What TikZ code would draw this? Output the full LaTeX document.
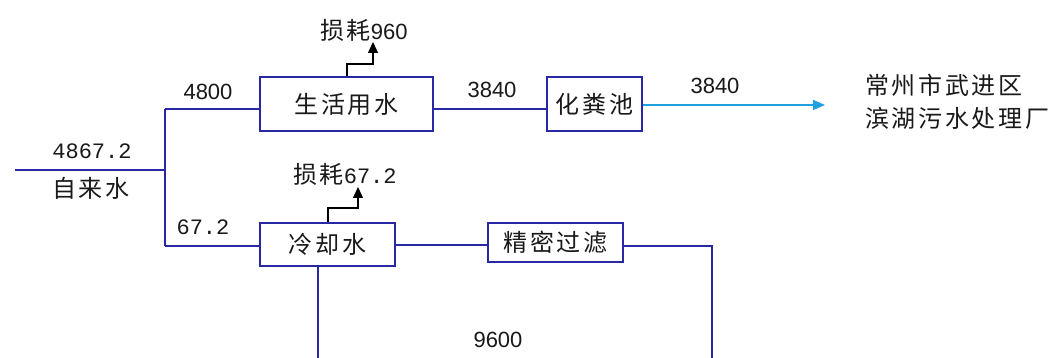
\documentclass[tikz,border=0pt]{standalone}
\usepackage{fontspec}
\usetikzlibrary{arrows.meta}
\newfontfamily\cjk[LetterSpace=11]{Noto Sans CJK SC}
\newfontfamily\numf{Liberation Sans}
\newfontfamily\monof{Liberation Mono}
\definecolor{navy}{RGB}{40,40,165}
\definecolor{skyb}{RGB}{30,160,225}
\definecolor{txt}{RGB}{25,25,25}
\tikzset{
  procbox/.style={draw=navy, line width=1.3pt, fill=white, inner sep=0pt, text=txt, font=\fontsize{24}{26}\selectfont\cjk},
  pipe/.style={draw=navy, line width=1.2pt},
  lossarrow/.style={draw=black, line width=1.2pt, -{Triangle[width=10pt,length=11pt]}},
  outarrow/.style={draw=skyb, line width=1.3pt, -{Triangle[width=10pt,length=12pt]}},
  lbl/.style={inner sep=0pt, text=txt, font=\fontsize{24}{26}\selectfont\cjk},
  numlbl/.style={inner sep=0pt, text=txt, font=\fontsize{22}{24}\selectfont\numf},
  monolbl/.style={inner sep=0pt, text=txt, font=\fontsize{22}{24}\selectfont\monof},
}
\begin{document}
\begin{tikzpicture}[x=1pt,y=-1pt]
\useasboundingbox[fill=white] (0,0) rectangle (1049,358);
% boxes
\node[procbox, minimum width=173pt, minimum height=54pt] (life) at (346.5,104) {生活用水};
\node[procbox, minimum width=95pt, minimum height=54pt] (septic) at (594.5,104) {化粪池};
\node[procbox, minimum width=135pt, minimum height=43pt] (cool) at (327.5,244.5) {冷却水};
\node[procbox, minimum width=135pt, minimum height=39pt] (filter) at (555.5,242.5) {精密过滤};
% coordinates
\coordinate (src) at (15,170);
\coordinate (jm) at (165,170);
\coordinate (jt) at (165,109);
\coordinate (jb) at (165,246);
\coordinate (dest) at (825,105);
\coordinate (loopR) at (712,246);
\coordinate (loopRB) at (712,358);
\coordinate (loopLB) at (318,358);
% pipes
\draw[pipe] (src) -- (jm);
\draw[pipe] (jt) -- (jb);
\draw[pipe] (jt) -- (life.west |- jt);
\draw[pipe] (jb) -- (cool.west |- jb);
\draw[pipe] (life.east |- 0,109) -- (septic.west |- 0,109);
\draw[pipe] (cool.east |- 0,245) -- (filter.west |- 0,245);
\draw[pipe] (filter.east |- loopR) -- (loopR) -- (loopRB);
\draw[pipe] (cool.south -| loopLB) -- (loopLB);
\draw[outarrow] (septic.east |- dest) -- (dest);
% loss labels and arrows
\node[lbl, anchor=west] (loss1) at (320,30) {损耗\fontsize{22}{24}\selectfont\numf 960};
\node[lbl, anchor=west] (loss2) at (293,174) {损耗\fontsize{22}{24}\selectfont\monof 67.2};
\coordinate (l1a) at (347,64);
\coordinate (l1b) at (373,64);
\coordinate (l1t) at (373,42);
\draw[lossarrow] (life.north -| l1a) -- (l1a) -- (l1b) -- (l1t);
\coordinate (l2a) at (328,208);
\coordinate (l2b) at (358,208);
\coordinate (l2t) at (358,187);
\draw[lossarrow] (cool.north -| l2a) -- (l2a) -- (l2b) -- (l2t);
% flow labels
\node[monolbl] (q0) at (92,151) {4867.2};
\node[lbl] (src lbl) at (91,188) {自来水};
\node[numlbl] (q1) at (208,92) {4800};
\node[monolbl] (q2) at (203,227) {67.2};
\node[numlbl] (q3) at (492,90) {3840};
\node[numlbl] (q4) at (715,86) {3840};
\node[numlbl] (q5) at (498,340) {9600};
\node[lbl, anchor=west] (d1) at (865,85) {常州市武进区};
\node[lbl, anchor=west] (d2) at (865,118) {滨湖污水处理厂};
\end{tikzpicture}
\end{document}
